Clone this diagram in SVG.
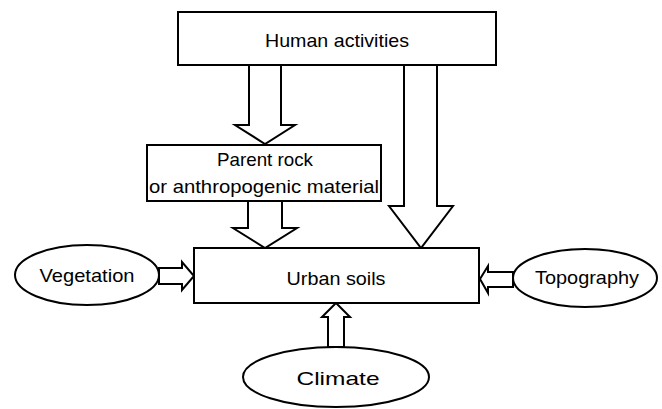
<svg xmlns="http://www.w3.org/2000/svg" width="662" height="409" viewBox="0 0 662 409">
<style>
.box{fill:#fff;stroke:#000;stroke-width:2}
.arr{fill:#fff;stroke:#000;stroke-width:2;stroke-linejoin:miter}
.t{font-family:"Liberation Sans",Arial,sans-serif;font-size:19px;fill:#000;text-anchor:middle}
</style>
<rect width="662" height="409" fill="#fff"/>
<g id="connectors">
<polygon class="arr" points="249,65 281,65 281,125 295,125 265,144 235,125 249,125"/>
<polygon class="arr" points="248,201 282,201 282,228 297,228 265,248 233,228 248,228"/>
<polygon class="arr" points="404,65 437,65 437,206 453,206 421,248 389,206 404,206"/>
<polygon class="arr" points="159,268 182,268 182,262 194,276 182,290 182,284 159,284"/>
<polygon class="arr" points="513,272 488,272 488,266 480,279 488,293 488,287 513,287"/>
<polygon class="arr" points="328,347 328,317 322,317 336,303 350,317 344,317 344,347"/>
</g>
<g id="human">
<rect class="box" x="178" y="12" width="318" height="53"/>
<text class="t" x="337" y="47" textLength="144" lengthAdjust="spacingAndGlyphs">Human activities</text>
</g>
<g id="parent">
<rect class="box" x="147" y="145" width="234" height="56"/>
<text class="t" x="265" y="166" textLength="96" lengthAdjust="spacingAndGlyphs">Parent rock</text>
<text class="t" x="264" y="193" textLength="230" lengthAdjust="spacingAndGlyphs">or anthropogenic material</text>
</g>
<g id="urban">
<rect class="box" x="194" y="248" width="285" height="55"/>
<text class="t" x="336" y="285" textLength="99" lengthAdjust="spacingAndGlyphs">Urban soils</text>
</g>
<g id="vegetation">
<ellipse class="box" cx="87" cy="275" rx="72" ry="30"/>
<text class="t" x="87" y="282" textLength="95" lengthAdjust="spacingAndGlyphs">Vegetation</text>
</g>
<g id="topography">
<ellipse class="box" cx="585" cy="278" rx="72" ry="29"/>
<text class="t" x="587" y="284" textLength="104" lengthAdjust="spacingAndGlyphs">Topography</text>
</g>
<g id="climate">
<ellipse class="box" cx="336" cy="377" rx="93" ry="30"/>
<text class="t" x="338" y="385" textLength="83" lengthAdjust="spacingAndGlyphs">Climate</text>
</g>
</svg>
